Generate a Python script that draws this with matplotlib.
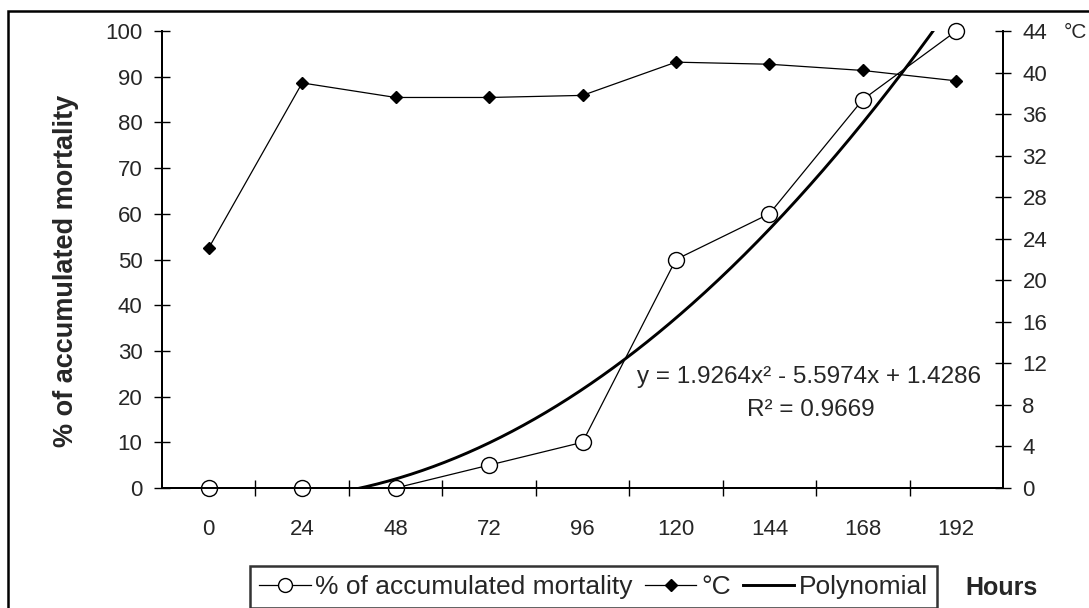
import numpy as np
import matplotlib
matplotlib.use("Agg")
import matplotlib.pyplot as plt
from matplotlib.lines import Line2D
from matplotlib.patches import Rectangle

plt.rcParams['font.family'] = ['Liberation Sans', 'DejaVu Sans']

hours = ["0", "24", "48", "72", "96", "120", "144", "168", "192"]
mortality = [0, 0, 0, 5, 10, 50, 60, 85, 100]
temperature = [23.1, 39.0, 37.6, 37.6, 37.8, 41.0, 40.8, 40.2, 39.2]
poly_coef = [1.9264, -5.5974, 1.4286]  # trendline y = a x^2 + b x + c, x = 1..n
left_ticks = list(range(0, 101, 10))
right_ticks = list(range(0, 45, 4))

TXT = '#262626'
W, H = 1089, 608
fig = plt.figure(figsize=(W / 100, H / 100), dpi=100)

# outer frame
fig.patches.append(Rectangle((8 / W, -0.05), 1.2, 1 - 11 / H + 0.05, transform=fig.transFigure,
                             fill=False, edgecolor='black', linewidth=1.8, zorder=0))

ax = fig.add_axes([162 / W, 1 - 488 / H, (1003 - 162) / W, (488 - 31) / H])
ax2 = ax.twinx()

n = len(hours)
idx = np.arange(n)
ax.set_xlim(-0.5, n - 0.5)
ax.set_ylim(0, 100)
ax2.set_ylim(0, 44)

# polynomial trendline
xs = np.linspace(0, n - 1, 400)
a, b, c = poly_coef
ys = a * (xs + 1) ** 2 + b * (xs + 1) + c
ax.plot(xs, ys, color='black', lw=2.1, zorder=3, clip_on=True)

ax.plot(idx, mortality, color='black', lw=0.9, marker='o', markersize=11.5,
        markerfacecolor='white', markeredgecolor='black', markeredgewidth=1.0, zorder=4, clip_on=False)
ax2.plot(idx, temperature, color='black', lw=0.9, marker='D', markersize=6.5,
         markerfacecolor='black', zorder=4, clip_on=False)

for a_ in (ax, ax2):
    a_.spines['top'].set_visible(False)
    for s in a_.spines.values():
        s.set_linewidth(1.4)
    a_.patch.set_visible(False)

ax.set_xticks(idx)
ax.set_xticklabels(hours, fontsize=16, color=TXT)
ax.tick_params(axis='x', which='major', length=0, pad=22)
ax.set_xticks(np.arange(0.5, n - 1, 1.0), minor=True)
ax.tick_params(axis='x', which='minor', direction='inout', length=12, width=1.0)

ax.set_yticks(left_ticks)
ax.set_yticklabels([str(t) for t in left_ticks], fontsize=16, color=TXT)
ax.tick_params(axis='y', direction='inout', length=12, width=1.0, pad=8)

ax2.set_yticks(right_ticks)
ax2.set_yticklabels([str(t) for t in right_ticks], fontsize=16, color=TXT)
ax2.tick_params(axis='y', direction='inout', length=12, width=1.0, pad=8)

fig.text(66 / W, 1 - 271 / H, "% of accumulated mortality", rotation=90, ha='center', va='center',
         fontsize=19.5, fontweight='bold', color=TXT)
fig.text(1064 / W, 1 - 32 / H, "°C", ha='left', va='center', fontsize=15, color=TXT)
fig.text(965 / W, 1 - 588 / H, "Hours", ha='left', va='center', fontsize=18, fontweight='bold',
         color=TXT)

ax.text(4.58, 24.3, "y = 1.9264x² - 5.5974x + 1.4286", ha='left', va='center', fontsize=17.5,
        color=TXT, zorder=5)
ax.text(6.44, 17.1, "R² = 0.9669", ha='center', va='center', fontsize=17.5, color=TXT, zorder=5)

handles = [
    Line2D([], [], color='black', lw=0.9, marker='o', markersize=10, markerfacecolor='white'),
    Line2D([], [], color='black', lw=0.9, marker='D', markersize=6, markerfacecolor='black'),
    Line2D([], [], color='black', lw=2.1),
]
labels = ["% of accumulated mortality", "°C", "Polynomial"]
leg = fig.legend(handles, labels, loc='upper left', bbox_to_anchor=(250 / W, 1 - 566 / H),
                 ncol=3, fontsize=19, frameon=True, fancybox=False, borderpad=0.35,
                 handlelength=1.95, handletextpad=0.18, columnspacing=0.45, borderaxespad=0)
leg.get_frame().set_edgecolor('black')
leg.get_frame().set_linewidth(1.8)
for t in leg.get_texts():
    t.set_color(TXT)

fig.savefig("out.png", dpi=100)
